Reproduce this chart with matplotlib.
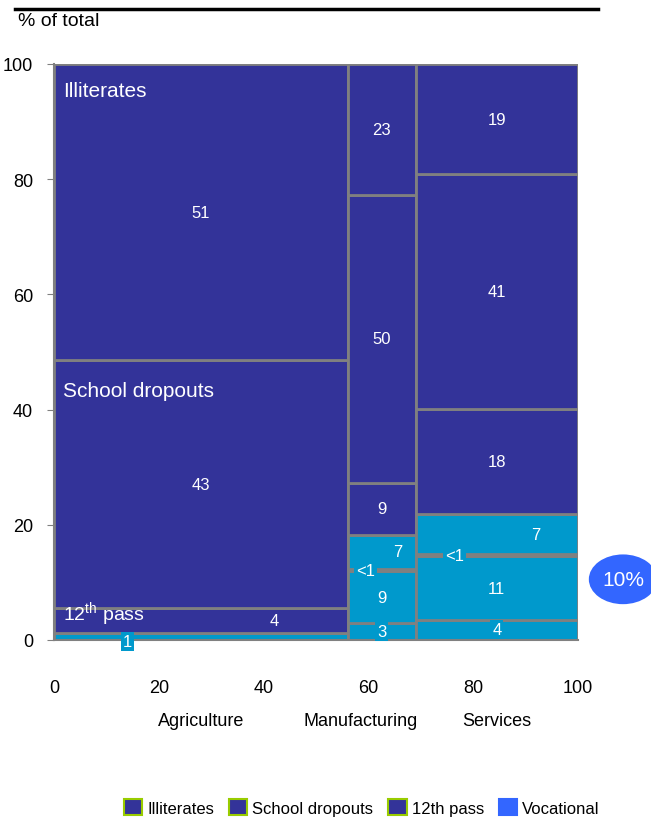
import matplotlib.pyplot as plt
from matplotlib.lines import Line2D
from matplotlib.patches import Ellipse, Rectangle
from matplotlib import font_manager

# Column widths (share of employment), left to right
sectors = ['Agriculture', 'Manufacturing', 'Services']
widths = [56, 13, 31]

# Stacked segments, bottom to top
agri_vals = [1.2, 4.3, 43.1, 51.4]
agri_kind = ['voc', '12th', 'drop', 'ill']
agri_text = ['1', '4', '43', '51']

manu_vals = [2.9, 9.0, 0.5, 5.9, 9.0, 50.0, 22.7]
manu_kind = ['voc', 'voc', 'voc', 'voc', '12th', 'drop', 'ill']
manu_text = ['3', '9', '<1', '7', '9', '50', '23']

serv_vals = [3.5, 11.0, 0.5, 6.8, 18.3, 40.8, 19.1]
serv_kind = ['voc', 'voc', 'voc', 'voc', '12th', 'drop', 'ill']
serv_text = ['4', '11', '<1', '7', '18', '41', '19']

legend_labels = ['Illiterates', 'School dropouts', '12th pass', 'Vocational']
yticks = [0, 20, 40, 60, 80, 100]
xticks = [0, 20, 40, 60, 80, 100]

DARK = '#333399'
CYAN = '#0099CC'
GRID = '#808080'
kind_color = {'voc': CYAN, '12th': DARK, 'drop': DARK, 'ill': DARK}

fams = [f.name for f in font_manager.fontManager.ttflist]
plt.rcParams['font.family'] = ['Liberation Sans Narrow', 'Liberation Sans', 'DejaVu Sans'] \
    if 'Liberation Sans Narrow' in fams else ['Liberation Sans', 'DejaVu Sans']
plt.rcParams['mathtext.default'] = 'regular'

fig = plt.figure(figsize=(6.51, 8.29), dpi=100)
ax = fig.add_axes([0.083, 0.2268, 0.805, 0.6948])

# label x overrides (column index, segment index) -> x
label_x = {(0, 0): 14, (0, 1): 42, (1, 2): 59.5, (1, 3): 65.5, (2, 2): 76.5, (2, 3): 92}
# labels drawn with a small filled box behind them
label_box = {(0, 0): CYAN, (0, 1): DARK, (1, 0): CYAN, (1, 2): CYAN,
             (2, 0): CYAN, (2, 2): CYAN}

columns = [(agri_vals, agri_kind, agri_text),
           (manu_vals, manu_kind, manu_text),
           (serv_vals, serv_kind, serv_text)]

left = 0
for ci, (vals, kinds, texts) in enumerate(columns):
    w = widths[ci]
    bottom = 0
    for si, (v, k, t) in enumerate(zip(vals, kinds, texts)):
        ax.bar(left, v, width=w, bottom=bottom, align='edge',
               color=kind_color[k], edgecolor=GRID, linewidth=2)
        x = label_x.get((ci, si), left + w / 2)
        y = bottom + v / 2
        if (ci, si) == (0, 0):
            y = -0.2
        kw = {}
        if (ci, si) in label_box:
            kw['bbox'] = dict(boxstyle='square,pad=0.12', fc=label_box[(ci, si)], ec='none')
        ax.text(x, y, t, color='white', fontsize=12, ha='center', va='center',
                zorder=5, clip_on=False, **kw)
        bottom += v
    left += w

# category names inside agriculture column
ax.text(1.8, 97, 'Illiterates', color='white', fontsize=15, ha='left', va='top')
ax.text(1.8, 45, 'School dropouts', color='white', fontsize=15, ha='left', va='top')
ax.text(1.8, 2.2, '12$^{th}$ pass', color='white', fontsize=14, ha='left', va='bottom', zorder=4)

ax.set_xlim(0, 100)
ax.set_ylim(0, 100)
ax.set_yticks(yticks)
ax.set_xticks(xticks)
ax.tick_params(axis='y', length=5, color=GRID, labelsize=13, pad=10)
ax.tick_params(axis='x', length=0, labelsize=13, pad=28)
for s in ['top', 'right']:
    ax.spines[s].set_visible(False)
for s in ['left', 'bottom']:
    ax.spines[s].set_color(GRID)
    ax.spines[s].set_linewidth(1.5)

# sector names under the axis
centers = []
left = 0
for w in widths:
    centers.append(left + w / 2)
    left += w
centers[1] -= 4
for c, name in zip(centers, sectors):
    ax.text(c, -14, name, fontsize=13, ha='center', va='center', clip_on=False)

# header
fig.add_artist(Line2D([0.023, 0.918], [0.988, 0.988], color='black', lw=2.5,
                      transform=fig.transFigure))
fig.text(0.028, 0.974, '% of total', fontsize=14, ha='left', va='center')

# 10% bubble
fig.add_artist(Ellipse((0.957, 0.3), 0.105, 0.06, transform=fig.transFigure,
                       color='#3366FF', ec='none'))
fig.text(0.957, 0.3, '10%', color='white', fontsize=15, ha='center', va='center')

# legend
handles = [Rectangle((0, 0), 1, 1, fc=DARK, ec='#99CC00', lw=1.5),
           Rectangle((0, 0), 1, 1, fc=DARK, ec='#99CC00', lw=1.5),
           Rectangle((0, 0), 1, 1, fc=DARK, ec='#99CC00', lw=1.5),
           Rectangle((0, 0), 1, 1, fc='#3366FF', ec='#3366FF', lw=1.5)]
fig.legend(handles, legend_labels, loc='center left', bbox_to_anchor=(0.19, 0.025),
           ncol=4, frameon=False, fontsize=12, handlelength=1.1, handleheight=1.1,
           handletextpad=0.3, columnspacing=0.9, borderaxespad=0, borderpad=0)

fig.savefig('out.png', dpi=100)
